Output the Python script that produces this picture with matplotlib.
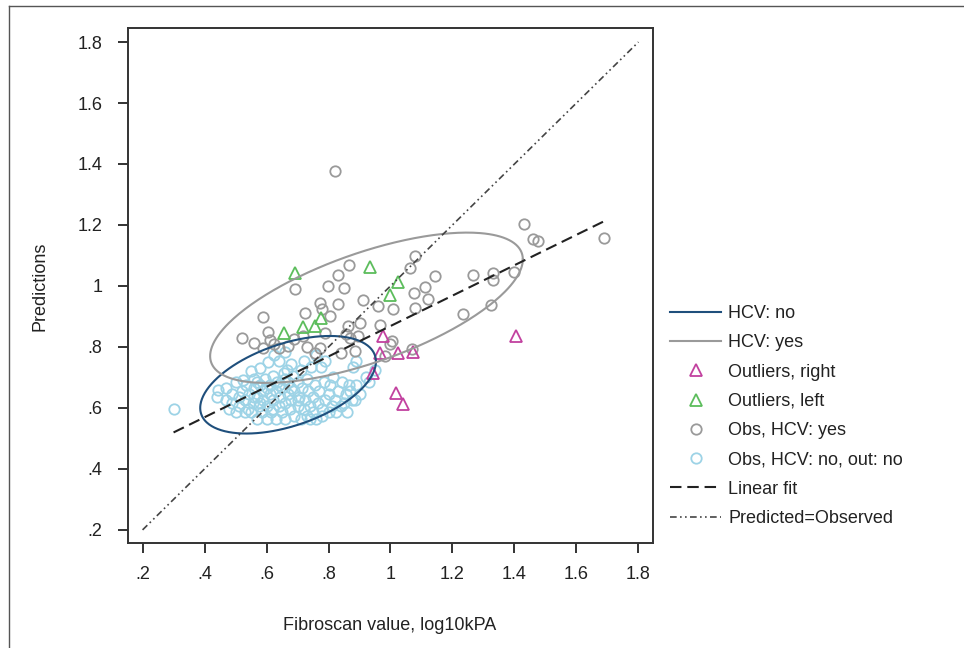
import numpy as np
import matplotlib
matplotlib.use("Agg")
import matplotlib.pyplot as plt
from matplotlib.lines import Line2D

plt.rcParams['font.family'] = ['Liberation Sans', 'DejaVu Sans']

# ---------------- data ----------------
grey_x = [0.82, 0.867, 1.078, 1.064, 1.145, 0.832, 0.799, 0.849, 0.692, 1.112, 1.076, 1.122,
          0.912, 0.773, 0.829, 0.960, 1.009, 1.078, 1.235, 0.590, 0.724, 0.805, 0.778, 0.901,
          0.862, 0.965, 0.606, 0.611, 0.520, 0.558, 0.719, 0.789, 0.855, 0.896, 0.869, 1.004,
          0.730, 0.670, 0.625, 0.590, 0.773, 0.840, 0.885, 1.068, 0.982, 0.756, 0.690, 0.640,
          1.000, 1.430, 1.460, 1.475, 1.690, 1.400, 1.330, 1.330, 1.265, 1.325]
grey_y = [1.377, 1.070, 1.099, 1.060, 1.034, 1.035, 1.001, 0.992, 0.991, 0.995, 0.976, 0.956,
          0.955, 0.944, 0.941, 0.933, 0.924, 0.928, 0.908, 0.897, 0.912, 0.903, 0.925, 0.879,
          0.870, 0.872, 0.850, 0.824, 0.828, 0.814, 0.837, 0.847, 0.844, 0.835, 0.829, 0.819,
          0.801, 0.803, 0.811, 0.796, 0.798, 0.780, 0.786, 0.793, 0.770, 0.780, 0.826, 0.796,
          0.811, 1.204, 1.153, 1.148, 1.158, 1.046, 1.041, 1.020, 1.035, 0.939]

blue_x = [0.30, 0.44, 0.445, 0.47, 0.47, 0.49, 0.49, 0.50, 0.50, 0.51, 0.52, 0.525, 0.53, 0.535,
          0.54, 0.545, 0.55, 0.55, 0.555, 0.56, 0.56, 0.57, 0.57, 0.575, 0.58, 0.58, 0.585, 0.59,
          0.59, 0.595, 0.60, 0.60, 0.605, 0.61, 0.61, 0.615, 0.62, 0.62, 0.625, 0.63, 0.63, 0.635,
          0.64, 0.64, 0.645, 0.65, 0.65, 0.655, 0.66, 0.66, 0.665, 0.67, 0.67, 0.675, 0.68, 0.68,
          0.685, 0.69, 0.69, 0.70, 0.70, 0.705, 0.71, 0.71, 0.715, 0.72, 0.72, 0.725, 0.73, 0.73,
          0.735, 0.74, 0.745, 0.75, 0.75, 0.755, 0.76, 0.76, 0.765, 0.77, 0.775, 0.78, 0.785, 0.79,
          0.79, 0.80, 0.80, 0.805, 0.81, 0.815, 0.82, 0.825, 0.83, 0.84, 0.845, 0.85, 0.855, 0.86,
          0.865, 0.87, 0.875, 0.88, 0.885, 0.89, 0.89, 0.90, 0.92, 0.93, 0.95, 0.56, 0.58, 0.60,
          0.62, 0.64, 0.66, 0.68, 0.70, 0.57, 0.53, 0.51, 0.48, 0.74, 0.78, 0.66]
blue_y = [0.595, 0.635, 0.66, 0.665, 0.625, 0.615, 0.645, 0.585, 0.685, 0.605, 0.655, 0.69, 0.625, 0.675,
          0.595, 0.645, 0.72, 0.585, 0.615, 0.665, 0.695, 0.565, 0.635, 0.605, 0.73, 0.675, 0.585, 0.655,
          0.625, 0.695, 0.565, 0.605, 0.75, 0.645, 0.675, 0.585, 0.625, 0.705, 0.775, 0.565, 0.655, 0.685,
          0.605, 0.755, 0.635, 0.585, 0.665, 0.715, 0.615, 0.565, 0.725, 0.645, 0.685, 0.595, 0.745, 0.625,
          0.705, 0.575, 0.655, 0.605, 0.685, 0.635, 0.725, 0.565, 0.665, 0.595, 0.755, 0.625, 0.575, 0.695,
          0.655, 0.605, 0.735, 0.585, 0.635, 0.675, 0.565, 0.775, 0.615, 0.655, 0.735, 0.595, 0.685, 0.625,
          0.755, 0.585, 0.645, 0.675, 0.605, 0.70, 0.625, 0.585, 0.655, 0.605, 0.685, 0.615, 0.645, 0.585,
          0.675, 0.655, 0.625, 0.735, 0.625, 0.755, 0.675, 0.645, 0.70, 0.685, 0.725, 0.635, 0.615, 0.665,
          0.595, 0.675, 0.695, 0.665, 0.625, 0.685, 0.585, 0.635, 0.595, 0.565, 0.575, 0.785]

right_x = [0.975, 0.966, 1.023, 1.073, 0.942, 1.018, 1.040, 1.405]
right_y = [0.835, 0.780, 0.780, 0.785, 0.715, 0.650, 0.612, 0.835]

left_x = [0.692, 0.934, 1.023, 0.998, 0.655, 0.718, 0.756, 0.777]
left_y = [1.041, 1.061, 1.013, 0.969, 0.846, 0.864, 0.869, 0.896]

# linear fit: intercept, slope
fit_coef = [0.370, 0.4986]
fit_range = [0.30, 1.69]
ident_range = [0.2, 1.8]

# ellipses: cx, cy, x-half-range, y-half-range, phase
ell_no = [0.6695, 0.676, 0.2835, 0.160, 1.076]
ell_yes = [0.9225, 0.9285, 0.5045, 0.2465, 0.872]

ticks = [0.2, 0.4, 0.6, 0.8, 1.0, 1.2, 1.4, 1.6, 1.8]
tick_labels = ['.2', '.4', '.6', '.8', '1', '1.2', '1.4', '1.6', '1.8']

# ---------------- colours ----------------
c_blue_pts = '#9dd3e6'
c_grey = '#9a9a9a'
c_mag = '#c2419f'
c_green = '#5cbd5c'
c_navy = '#1f4f7c'
c_text = '#222222'

W, H = 964, 648
fig = plt.figure(figsize=(W/100, H/100), dpi=100)
ax = fig.add_axes([128/W, 1-543/H, (653-128)/W, (543-28)/H])

def ellipse(p):
    t = np.linspace(0, 2*np.pi, 300)
    return p[0] + p[2]*np.cos(t), p[1] + p[3]*np.cos(t - p[4])

mk = dict(linestyle='none', markerfacecolor='none', markeredgewidth=1.3)
ax.plot(blue_x, blue_y, marker='o', markersize=7.5, markeredgecolor=c_blue_pts, **mk, zorder=2)
ax.plot(grey_x, grey_y, marker='o', markersize=7.5, markeredgecolor=c_grey, **mk, zorder=3)
ax.plot(right_x, right_y, marker='^', markersize=8, markeredgecolor=c_mag, **mk, zorder=4)
ax.plot(left_x, left_y, marker='^', markersize=8, markeredgecolor=c_green, **mk, zorder=4)

ex, ey = ellipse(ell_no)
ax.plot(ex, ey, color=c_navy, lw=1.5, zorder=5)
ex, ey = ellipse(ell_yes)
ax.plot(ex, ey, color=c_grey, lw=1.5, zorder=5)

fit_dash = (5.5, 2.8)
ident_dash = (4, 2, 1, 2, 1, 2)
fx = np.array(fit_range)
ax.plot(fx, fit_coef[0] + fit_coef[1]*fx, color='#222222', lw=1.5, dashes=fit_dash, zorder=6)
ix = np.array(ident_range)
ax.plot(ix, ix, color='#444444', lw=1.2, dashes=ident_dash, zorder=6)

ax.set_xlim(0.153, 1.847)
ax.set_ylim(0.157, 1.846)
ax.set_xticks(ticks)
ax.set_xticklabels(tick_labels)
ax.set_yticks(ticks)
ax.set_yticklabels(tick_labels)
ax.tick_params(axis='both', direction='out', length=7.5, width=1.4, color='#333333',
               labelsize=13, labelcolor=c_text)
ax.tick_params(axis='x', pad=9)
ax.tick_params(axis='y', pad=11)
for s in ax.spines.values():
    s.set_linewidth(1.4)
    s.set_color('#333333')

fig.text(390/W, 1-626/H, 'Fibroscan value, log10kPA', ha='center', va='center',
         fontsize=13, color=c_text)
fig.text(40/W, 1-286/H, 'Predictions', ha='center', va='center', rotation=90,
         fontsize=13, color=c_text)

# outer frame (partially visible)
fig.add_artist(Line2D([9/W, 9/W], [0, 1-6/H], transform=fig.transFigure,
                      color='#555555', lw=1.0))
fig.add_artist(Line2D([9/W, 1], [1-6/H, 1-6/H], transform=fig.transFigure,
                      color='#555555', lw=1.0))

handles = [
    Line2D([], [], color=c_navy, lw=1.5),
    Line2D([], [], color=c_grey, lw=1.5),
    Line2D([], [], marker='^', markersize=8, markeredgecolor=c_mag, **mk),
    Line2D([], [], marker='^', markersize=8, markeredgecolor=c_green, **mk),
    Line2D([], [], marker='o', markersize=7.5, markeredgecolor=c_grey, **mk),
    Line2D([], [], marker='o', markersize=7.5, markeredgecolor=c_blue_pts, **mk),
    Line2D([], [], color='#222222', lw=1.5, dashes=fit_dash),
    Line2D([], [], color='#444444', lw=1.2, dashes=ident_dash),
]
labels = ['HCV: no', 'HCV: yes', 'Outliers, right', 'Outliers, left', 'Obs, HCV: yes',
          'Obs, HCV: no, out: no', 'Linear fit', 'Predicted=Observed']
leg = fig.legend(handles, labels, loc='upper left', bbox_to_anchor=(670/W, 1-305/H),
                 frameon=False, fontsize=13, handlelength=2.85, handletextpad=0.38,
                 labelspacing=0.68, borderaxespad=0, borderpad=0)
for t in leg.get_texts():
    t.set_color(c_text)

fig.savefig('out.png', dpi=100, facecolor='white')
